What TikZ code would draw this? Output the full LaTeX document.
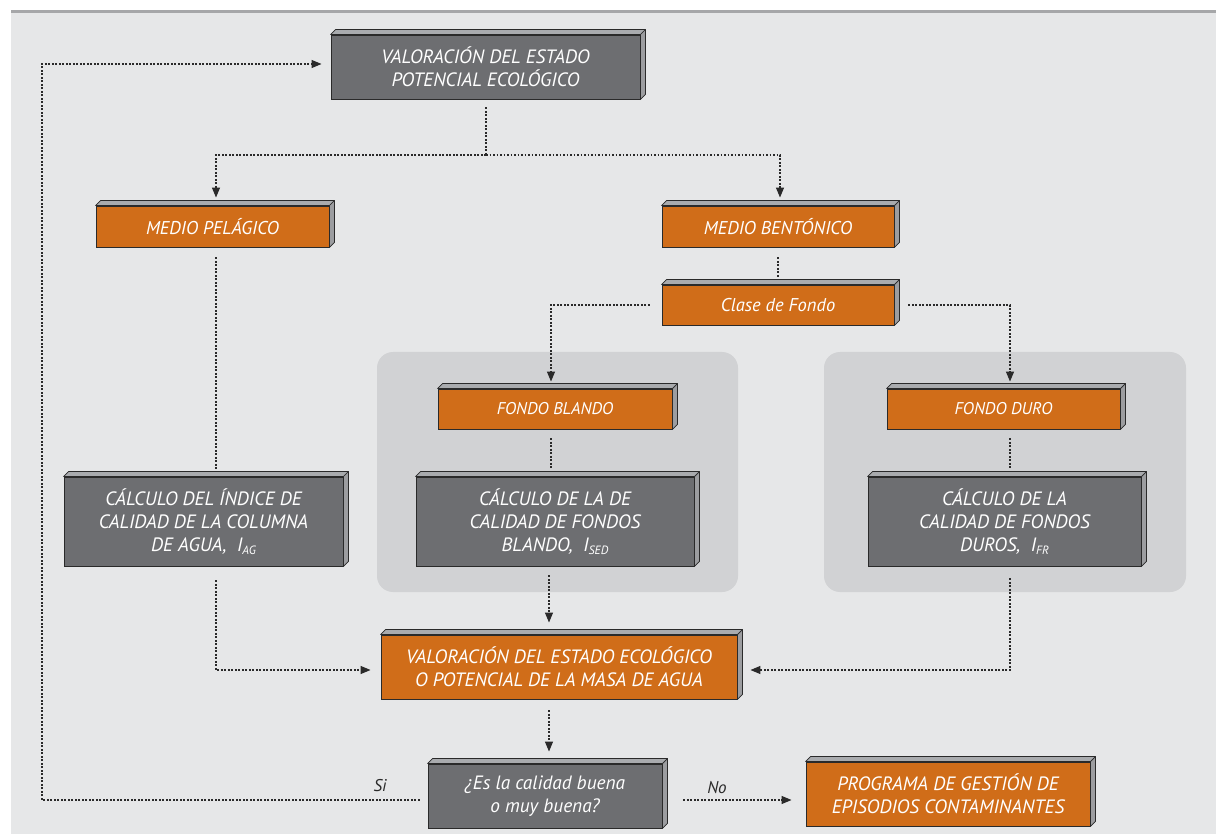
\documentclass[tikz,border=0pt]{standalone}
\usepackage{fontspec}
\setmainfont{PT Sans}
\usetikzlibrary{arrows.meta}

\definecolor{sheet}{HTML}{E6E7E8}
\definecolor{rule}{HTML}{A6A7A9}
\definecolor{panel}{HTML}{D1D2D4}
\definecolor{slate}{HTML}{6D6E71}
\definecolor{rust}{HTML}{D06D19}
\definecolor{facetop}{HTML}{A9ABAE}
\definecolor{faceside}{HTML}{9C9DA0}
\definecolor{ink}{HTML}{2A2A2A}

% lowered subscript for the index names
\newcommand{\lowsub}[1]{\raisebox{-0.35ex}{\fontsize{12}{12}\selectfont #1}}

\tikzset{
  block/.style={draw=ink, line width=0.9pt, text=white, align=center,
    inner sep=0pt, font=\itshape},
  slatebox/.style={block, fill=slate},
  rustbox/.style={block, fill=rust},
  bigtext/.style={font=\itshape\fontsize{19.3}{23}\selectfont},
  midtext/.style={font=\itshape\fontsize{18.5}{21}\selectfont},
  smalltext/.style={font=\itshape\fontsize{17}{20}\selectfont},
  panelbox/.style={fill=panel, rounded corners=16pt, inner sep=0pt},
  dotline/.style={draw=ink, line width=1.15pt, dash pattern=on 1.6pt off 1.9pt},
  arr/.style={dotline, -{Triangle[length=10pt,width=8pt]}},
  lbl/.style={text=ink, font=\itshape\fontsize{17}{20}\selectfont},
}

\begin{document}
\begin{tikzpicture}[x=1pt,y=-1pt]
\useasboundingbox (0,0) rectangle (1216,834);
\fill[white] (0,0) rectangle (1216,834);
\fill[sheet] (11,12) rectangle (1216,834);
\draw[rule, line width=3pt] (11,11.5) -- (1216,11.5);

% shaded panels for the two kinds of bottom
\node[panelbox, minimum width=361pt, minimum height=240pt] (softpanel) at (557.5,472) {};
\node[panelbox, minimum width=362pt, minimum height=240pt] (hardpanel) at (1005,472) {};

% boxes
\node[slatebox, bigtext, minimum width=309pt, minimum height=64pt] (top) at (485.5,67)
  {VALORACIÓN DEL ESTADO\\POTENCIAL ECOLÓGICO};
\node[rustbox, midtext, minimum width=233pt, minimum height=41pt] (pel) at (212.5,226.5)
  {MEDIO PELÁGICO};
\node[rustbox, midtext, minimum width=232pt, minimum height=41pt] (ben) at (778,226.5)
  {MEDIO BENTÓNICO};
\node[rustbox, midtext, minimum width=232pt, minimum height=40pt] (clase) at (778,305)
  {Clase de Fondo};
\node[rustbox, smalltext, minimum width=234pt, minimum height=40pt] (blando) at (555,409)
  {FONDO BLANDO};
\node[rustbox, smalltext, minimum width=233pt, minimum height=40pt] (duro) at (1003.5,409)
  {FONDO DURO};
\node[slatebox, bigtext, minimum width=279pt, minimum height=89pt] (cag) at (203.5,521.5)
  {CÁLCULO DEL ÍNDICE DE\\CALIDAD DE LA COLUMNA\\DE AGUA, \ I\lowsub{AG}};
\node[slatebox, bigtext, minimum width=278pt, minimum height=89pt] (csed) at (555,521.5)
  {CÁLCULO DE LA DE\\CALIDAD DE FONDOS\\BLANDO, \ I\lowsub{SED}};
\node[slatebox, bigtext, minimum width=273pt, minimum height=89pt] (cfr) at (1004.5,521.5)
  {CÁLCULO DE LA\\CALIDAD DE FONDOS\\DUROS, \ I\lowsub{FR}};
\node[rustbox, bigtext, minimum width=356pt, minimum height=64pt] (val) at (559,667)
  {VALORACIÓN DEL ESTADO ECOLÓGICO\\O POTENCIAL DE LA MASA DE AGUA};
\node[slatebox, bigtext, minimum width=234pt, minimum height=64pt] (es) at (545,796)
  {¿Es la calidad buena\\o muy buena?};
\node[rustbox, bigtext, minimum width=284pt, minimum height=64pt] (prog) at (948,794)
  {PROGRAMA DE GESTIÓN DE\\EPISODIOS CONTAMINANTES};

% raised top and right faces of every box
\foreach \n in {top,pel,ben,clase,blando,duro,cag,csed,cfr,val,es,prog}{
  \filldraw[fill=facetop, draw=ink, line width=0.7pt, line join=round]
    (\n.north west) -- ++(5,-5) -- ([shift={(5,-5)}]\n.north east) -- (\n.north east) -- cycle;
  \filldraw[fill=faceside, draw=ink, line width=0.7pt, line join=round]
    (\n.north east) -- ++(5,-5) -- ([shift={(5,-5)}]\n.south east) -- (\n.south east) -- cycle;
}

% connectors
\coordinate (split) at (486,155);
\draw[dotline] ([shift={(0.5,8)}]top.south) -- (split);
\draw[arr] (split) -| ([shift={(3.5,-8)}]pel.north);
\draw[arr] (split) -| ([shift={(2,-8)}]ben.north);

\draw[dotline] ([shift={(3.5,10)}]pel.south) -- ([shift={(12.5,-7)}]cag.north);
\draw[dotline] ([shift={(0,10)}]ben.south) -- ([shift={(0,-8)}]clase.north);

\draw[arr] ([xshift=-12pt]clase.west) -| ([shift={(-4,-7)}]blando.north);
\draw[arr] ([xshift=14pt]clase.east) -| ([shift={(6.5,-7)}]duro.north);

\draw[dotline] ([shift={(-4,9)}]blando.south) -- ([shift={(-4,-9)}]csed.north);
\draw[dotline] ([shift={(6.5,9)}]duro.south) -- ([shift={(5.5,-9)}]cfr.north);

\draw[arr] ([shift={(12.5,14)}]cag.south) |- ([shift={(-10,3)}]val.west);
\draw[arr] ([shift={(-6,9)}]csed.south) -- ([shift={(-10,-12)}]val.north);
\draw[arr] ([shift={(5.5,12)}]cfr.south) |- ([shift={(13,3)}]val.east);

\draw[arr] ([shift={(-10,11)}]val.south) -- ([shift={(4,-12)}]es.north);

\coordinate (loop) at (42,64);
\draw[arr] ([shift={(-8,4)}]es.west) -| (loop) -- ([shift={(-9,-3)}]top.west);
\draw[arr] ([shift={(21,4)}]es.east) -- ([shift={(-14,6)}]prog.west);

\node[lbl] (si) at (380,786) {Si};
\node[lbl] (no) at (717,788) {No};
\end{tikzpicture}
\end{document}
